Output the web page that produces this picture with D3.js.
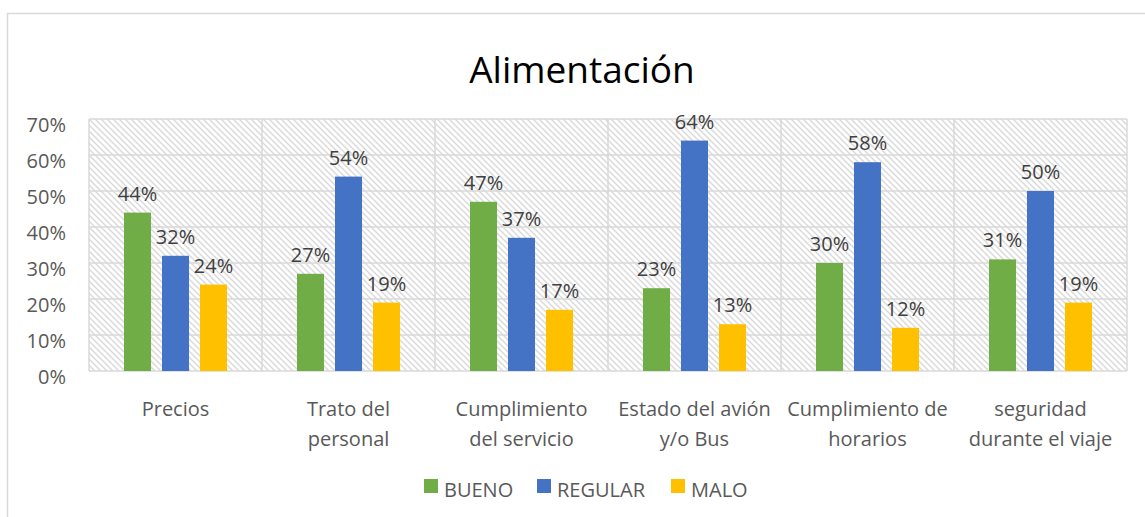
<!DOCTYPE html>
<html>
<head>
<meta charset="utf-8">
<script src="https://cdn.jsdelivr.net/npm/d3@7"></script>
<style>
  body { margin: 0; background: #fff; }
  text { font-family: "Open Sans", sans-serif; }
</style>
</head>
<body>
<svg width="1145" height="517"></svg>
<script>
// chart data
const categories = [
    ["Precios"],
    ["Trato del", "personal"],
    ["Cumplimiento", "del servicio"],
    ["Estado del avión", "y/o Bus"],
    ["Cumplimiento de", "horarios"],
    ["seguridad", "durante el viaje"]
];
const series = ["BUENO", "REGULAR", "MALO"];
const bueno   = [44, 27, 47, 23, 30, 31];
const regular = [32, 54, 37, 64, 58, 50];
const malo    = [24, 19, 17, 13, 12, 19];
const yTicks  = [0, 10, 20, 30, 40, 50, 60, 70];
const colors  = ["#70AD47", "#4472C4", "#FFC000"];

function drawChart() {
    const svg = d3.select("svg");
    const left = 89, right = 1127, top = 119, bottom = 371;
    const values = [bueno, regular, malo];
    const rows = categories.map((c, i) => ({ cat: i, lines: c, vals: values.map(v => v[i]) }));

    // outer chart border (runs off the picture at right and bottom)
    svg.append("rect")
       .attr("x", 7.5).attr("y", 13.5).attr("width", 1160).attr("height", 540)
       .attr("fill", "white").attr("stroke", "#d9d9d9").attr("stroke-width", 1.5);

    // hatch pattern for the plot area
    const pat = svg.append("defs").append("pattern")
       .attr("id", "hatch").attr("patternUnits", "userSpaceOnUse")
       .attr("width", 6).attr("height", 6);
    pat.append("rect").attr("width", 6).attr("height", 6).attr("fill", "white");
    pat.append("path")
       .attr("d", "M-1,-1 L7,7 M-1,5 L1,7 M5,-1 L7,1")
       .attr("stroke", "#d9d9d9").attr("stroke-width", 1.4);

    var scX = d3.scaleBand().domain(d3.range(categories.length)).range([left, right]);
    var scS = d3.scaleBand().domain(d3.range(series.length))
                .range([0, scX.bandwidth()]).paddingInner(0.289).paddingOuter(0.921);
    var scY = d3.scaleLinear().domain([0, 70]).range([bottom, top]);

    svg.append("rect")
       .attr("x", left).attr("y", top)
       .attr("width", right - left).attr("height", bottom - top)
       .attr("fill", "url(#hatch)");

    // horizontal gridlines
    svg.append("g").selectAll("line").data(yTicks).enter().append("line")
       .attr("x1", left).attr("x2", right)
       .attr("y1", d => scY(d)).attr("y2", d => scY(d))
       .attr("stroke", "#d9d9d9").attr("stroke-width", 1.5);

    // vertical category separators
    svg.append("g").selectAll("line").data(d3.range(categories.length + 1)).enter().append("line")
       .attr("x1", d => left + d * scX.step()).attr("x2", d => left + d * scX.step())
       .attr("y1", top).attr("y2", bottom)
       .attr("stroke", "#d9d9d9").attr("stroke-width", 1.5);

    // y tick labels (sit a little below their gridline, like the original)
    svg.append("g").selectAll("text").data(yTicks).enter().append("text")
       .attr("x", 66).attr("y", d => scY(d) + 13)
       .attr("text-anchor", "end").attr("font-size", 20).attr("fill", "#595959")
       .text(d => d + "%");

    // bars
    const groups = svg.append("g").selectAll("g").data(rows).enter().append("g")
       .attr("transform", d => "translate(" + scX(d.cat) + ",0)");

    groups.selectAll("rect").data(d => d.vals).enter().append("rect")
       .attr("x", (d, i) => scS(i)).attr("width", scS.bandwidth())
       .attr("y", d => scY(d)).attr("height", d => scY(0) - scY(d))
       .attr("fill", (d, i) => colors[i]);

    groups.selectAll("text.lbl").data(d => d.vals).enter().append("text")
       .attr("class", "lbl")
       .attr("x", (d, i) => scS(i) + scS.bandwidth() / 2).attr("y", d => scY(d) - 12)
       .attr("text-anchor", "middle").attr("font-size", 20).attr("fill", "#404040")
       .text(d => d + "%");

    // category labels
    groups.append("text")
       .attr("text-anchor", "middle").attr("font-size", 20).attr("fill", "#595959")
       .selectAll("tspan").data(d => d.lines).enter().append("tspan")
       .attr("x", scX.bandwidth() / 2).attr("y", (d, i) => 416 + i * 30)
       .text(d => d);

    // title
    svg.append("text")
       .attr("x", 582).attr("y", 83).attr("text-anchor", "middle")
       .attr("font-size", 37).attr("fill", "#000")
       .text("Alimentación");

    // legend
    const legX = [424, 537, 671];
    const leg = svg.append("g").selectAll("g").data(series).enter().append("g")
       .attr("transform", (d, i) => "translate(" + legX[i] + ",479)");
    leg.append("rect").attr("width", 14).attr("height", 14)
       .attr("fill", (d, i) => colors[i]);
    leg.append("text").attr("x", 20).attr("y", 18)
       .attr("font-size", 20).attr("fill", "#595959")
       .text(d => d);
}

drawChart();
</script>
</body>
</html>
